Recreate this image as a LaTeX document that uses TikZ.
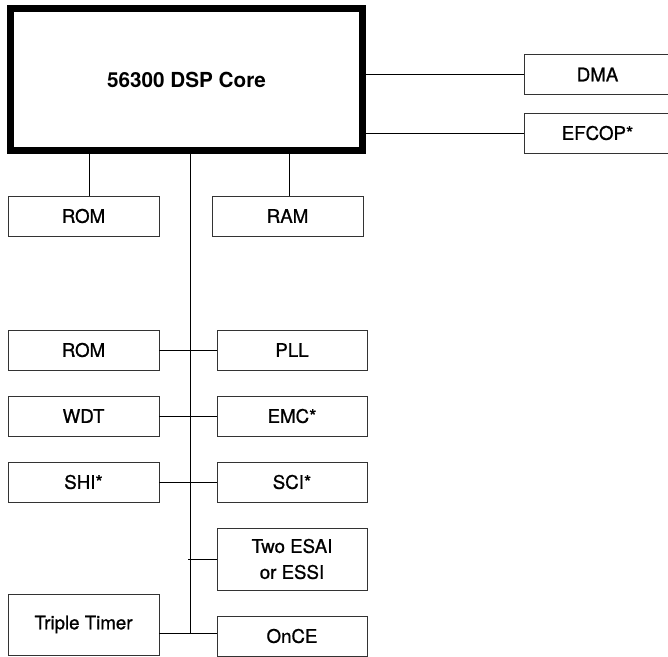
\documentclass[tikz,border=0pt]{standalone}
\usepackage{fontspec}
\setmainfont{TeX Gyre Heros}
\newfontfamily\medfont{TeX Gyre Heros}[FakeBold=0.9]
\usetikzlibrary{calc}

\begin{document}
\begin{tikzpicture}[x=1pt, y=-1pt,
		unit/.style={draw=black!80, line width=0.9pt, minimum width=151, minimum height=40, inner sep=0pt, font=\medfont\fontsize{18.7}{26}\selectfont, align=center},
		core/.style={draw=black, line width=7pt, minimum width=352, minimum height=142, font=\fontsize{20.7}{25}\selectfont\bfseries},
		wire/.style={line width=0.9pt, color=black}]
			%%%%% START %%%%%
			
			\useasboundingbox (0, 0) rectangle (668, 656);
			
			\node[core] (dsp) at (186.5, 79.5) {\raisebox{-3pt}{56300 DSP Core}};
			
			\node[unit, minimum width=147] (dma) at (597.5, 74.5) {DMA};
			\node[unit, minimum width=147] (efcop) at (597.5, 133) {EFCOP*};
			
			\node[unit] (romA) at (83.5, 216) {ROM};
			\node[unit] (ram) at (287.5, 216) {RAM};
			
			\node[unit] (romB) at (83.5, 350) {ROM};
			\node[unit] (wdt) at (83.5, 416) {WDT};
			\node[unit] (shi) at (83.5, 482) {SHI*};
			\node[unit, minimum height=61] (timer) at (83.5, 624.5) {Triple Timer};
			
			\node[unit, minimum width=150] (pll) at (292, 350) {PLL};
			\node[unit, minimum width=150] (emc) at (292, 416) {EMC*};
			\node[unit, minimum width=150] (sci) at (292, 482) {SCI*};
			\node[unit, minimum width=150, minimum height=62] (esai) at (292, 559) {Two ESAI\\or ESSI};
			\node[unit, minimum width=150] (once) at (292, 636) {OnCE};
			
			\coordinate (busend) at (190, 633);
			
			% core to the right side
			\draw[wire] (dsp.east |- dma.west) -- (dma.west);
			\draw[wire] (dsp.east |- efcop.west) -- (efcop.west);
			
			% memories
			\draw[wire] ([xshift=5.5]romA.north) -- ([xshift=5.5]romA.north |- dsp.south);
			\draw[wire] ([xshift=1.5]ram.north) -- ([xshift=1.5]ram.north |- dsp.south);
			
			% peripheral bus
			\draw[wire] (dsp.south -| busend) -- (busend);
			\draw[wire] (romB.east) -- (pll.west);
			\draw[wire] (wdt.east) -- (emc.west);
			\draw[wire] (shi.east) -- (sci.west);
			\draw[wire] ([xshift=-2]busend |- esai.west) -- (esai.west);
			\draw[wire] (timer.east |- busend) -- (once.west |- busend);
			
			%%%%% END %%%%%
\end{tikzpicture}
\end{document}
